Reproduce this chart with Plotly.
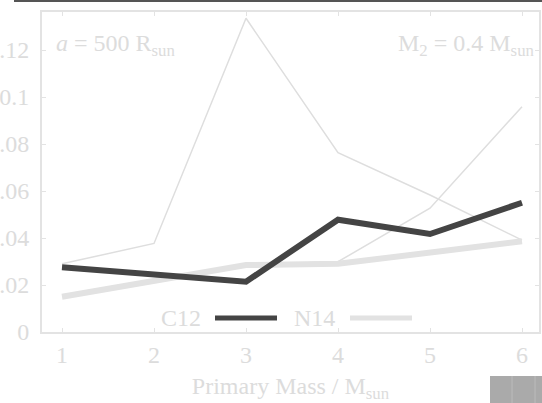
import plotly.graph_objects as go

mass = [1, 2, 3, 4, 5, 6]
c12 = [0.0276, 0.0247, 0.0214, 0.0478, 0.0417, 0.0550]
n14 = [0.0150, 0.0217, 0.0285, 0.0290, 0.0340, 0.0386]
thin_a = [0.0290, 0.0377, 0.1335, 0.0763, 0.0583, 0.0391]
thin_b = [0.0155, 0.0220, 0.0287, 0.0299, 0.0527, 0.0959]

FONT = "Liberation Serif"
TXT = "#dcdcdc"
LINE = "#e3e3e3"
FS = 24

fig = go.Figure()
fig.add_trace(go.Scatter(x=mass, y=thin_a, mode="lines", name="series 3",
                         line=dict(color="#dedede", width=1.5), showlegend=False))
fig.add_trace(go.Scatter(x=mass, y=thin_b, mode="lines", name="series 4",
                         line=dict(color="#dedede", width=1.5), showlegend=False))
fig.add_trace(go.Scatter(x=mass, y=n14, mode="lines", name="N14",
                         line=dict(color="#e2e2e2", width=6), showlegend=False))
fig.add_trace(go.Scatter(x=mass, y=c12, mode="lines", name="C12",
                         line=dict(color="#444444", width=6), showlegend=False))

L, R, T, B = 42, 3, 12, 71
W, H = 542, 403
PW, PH = W - L - R, H - T - B

def px(x):
    return (x - L) / PW

def py(y):
    return (H - B - y) / PH

shapes = [
    dict(type="line", xref="paper", yref="paper", x0=px(14), x1=px(542), y0=py(1), y1=py(1),
         line=dict(color="#555555", width=2)),
    dict(type="rect", xref="paper", yref="paper", x0=px(490), x1=px(543), y0=py(404), y1=py(376),
         fillcolor="#aaaaaa", line=dict(width=0)),
    dict(type="line", xref="paper", yref="paper", x0=px(512), x1=px(512), y0=py(404), y1=py(376),
         line=dict(color="#bbbbbb", width=1)),
    dict(type="line", xref="paper", yref="paper", x0=px(535), x1=px(535), y0=py(404), y1=py(376),
         line=dict(color="#bbbbbb", width=1)),
    dict(type="line", xref="paper", yref="paper", x0=px(215), x1=px(277), y0=py(318), y1=py(318),
         line=dict(color="#444444", width=5)),
    dict(type="line", xref="paper", yref="paper", x0=px(350), x1=px(412), y0=py(318), y1=py(318),
         line=dict(color="#e2e2e2", width=5)),
]

annotations = [
    dict(text="<i>a</i> = 500 R<sub>sun</sub>", xref="paper", yref="paper", x=px(54), y=py(45),
         xanchor="left", yanchor="middle", showarrow=False, font=dict(family=FONT, size=FS, color=TXT)),
    dict(text="M<sub>2</sub> = 0.4 M<sub>sun</sub>", xref="paper", yref="paper", x=px(537), y=py(45),
         xanchor="right", yanchor="middle", showarrow=False, font=dict(family=FONT, size=FS, color=TXT)),
    dict(text="C12", xref="paper", yref="paper", x=px(181), y=py(318),
         xanchor="center", yanchor="middle", showarrow=False, font=dict(family=FONT, size=FS, color=TXT)),
    dict(text="N14", xref="paper", yref="paper", x=px(314), y=py(318),
         xanchor="center", yanchor="middle", showarrow=False, font=dict(family=FONT, size=FS, color=TXT)),
]

fig.update_layout(
    width=W, height=H, template="none",
    margin=dict(l=L, r=R, t=T, b=B, pad=0),
    paper_bgcolor="white", plot_bgcolor="white",
    showlegend=False,
    shapes=shapes, annotations=annotations,
    font=dict(family=FONT, size=FS, color=TXT),
    xaxis=dict(range=[1 - 20 / 92, 6 + 17 / 92], tickvals=mass, ticks="inside", ticklen=4,
               tickcolor=LINE, showline=True, linecolor=LINE, linewidth=2, mirror="ticks",
               showgrid=False, zeroline=False, automargin=False,
               tickfont=dict(family=FONT, size=FS, color=TXT),
               title=dict(text="Primary Mass / M<sub>sun</sub>", standoff=13,
                          font=dict(family=FONT, size=FS, color=TXT))),
    yaxis=dict(range=[0, 320 / 47 * 0.02], dtick=0.02, ticks="inside", ticklen=4,
               tickcolor=LINE, showline=True, linecolor=LINE, linewidth=2, mirror="ticks",
               showgrid=False, zeroline=False, automargin=False, ticklabelstandoff=6,
               tickfont=dict(family=FONT, size=FS, color=TXT)),
)

fig.write_html("out.html")
